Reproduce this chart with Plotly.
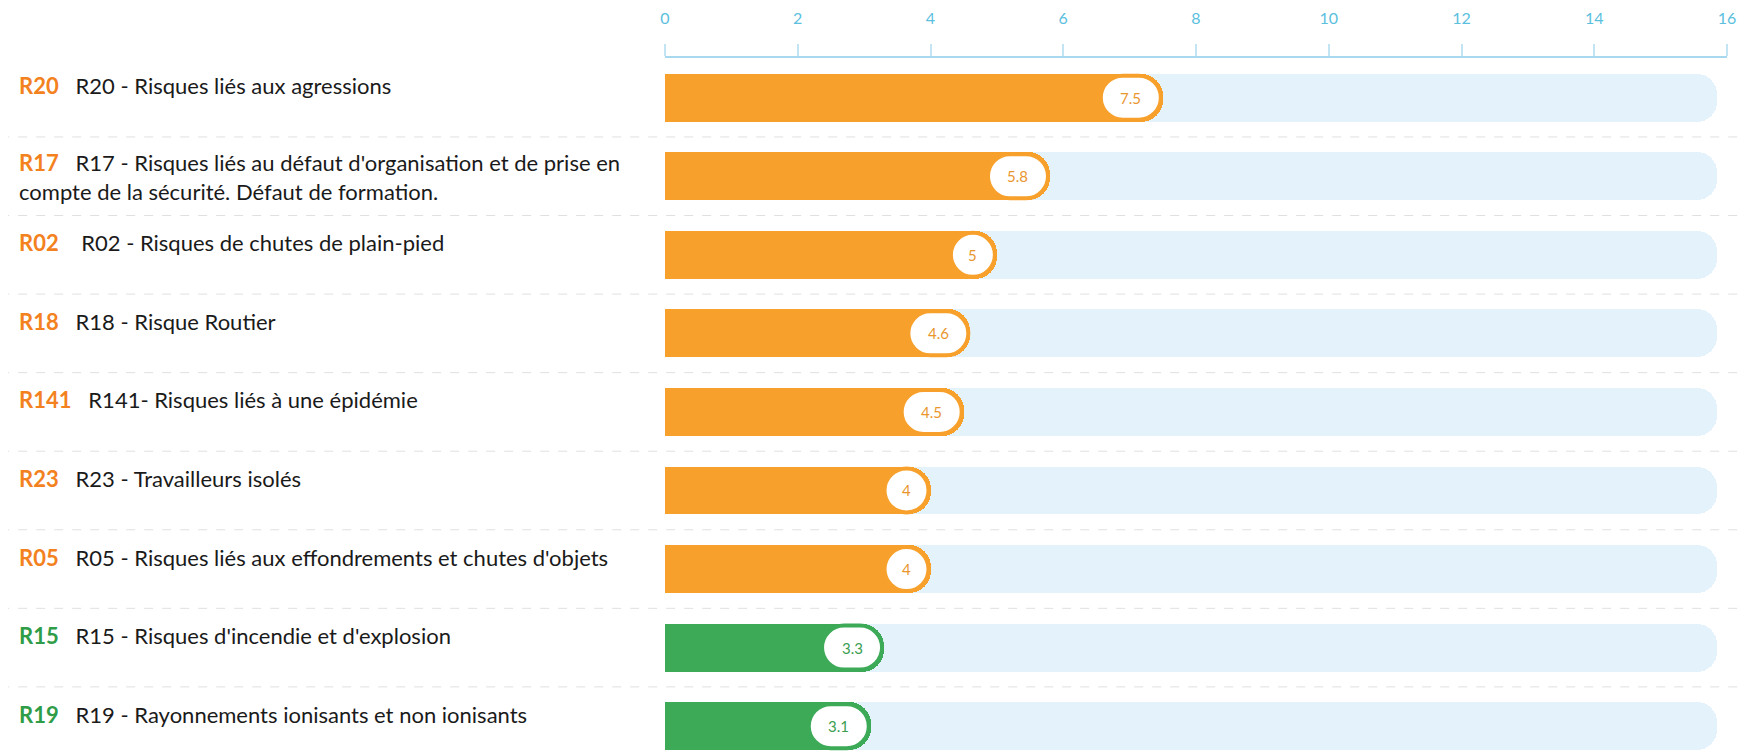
import plotly.graph_objects as go

codes = ["R20", "R17", "R02", "R18", "R141", "R23", "R05", "R15", "R19"]
descriptions = [
    "R20 - Risques liés aux agressions",
    "R17 - Risques liés au défaut d'organisation et de prise en<br>compte de la sécurité. Défaut de formation.",
    " R02 - Risques de chutes de plain-pied",
    "R18 - Risque Routier",
    "R141- Risques liés à une épidémie",
    "R23 - Travailleurs isolés",
    "R05 - Risques liés aux effondrements et chutes d'objets",
    "R15 - Risques d'incendie et d'explosion",
    "R19 - Rayonnements ionisants et non ionisants",
]
values = [7.5, 5.8, 5, 4.6, 4.5, 4, 4, 3.3, 3.1]
value_labels = ["7.5", "5.8", "5", "4.6", "4.5", "4", "4", "3.3", "3.1"]
levels = ["orange"] * 7 + ["green"] * 2
scale_max = 16
track_max = 15.85
tick_vals = [0, 2, 4, 6, 8, 10, 12, 14, 16]

BAR_COL = {"orange": "#F7A12C", "green": "#3DAA58"}
CODE_COL = {"orange": "#F38120", "green": "#2F9C48"}
TXT_COL = {"orange": "#E9962E", "green": "#3A9E50"}

n = len(values)
ypos = list(range(n))
bar_w = 0.61
bar_px = 48
yrange = [8.316, -0.505]

fig = go.Figure()
# background track (drawn first, on the base axis)
fig.add_trace(go.Bar(
    x=[track_max] * n, y=ypos, orientation="h", width=bar_w,
    marker=dict(color="#E4F2FB", line=dict(width=0), cornerradius=20),
    hoverinfo="skip", showlegend=False,
))
# value bars on an overlaying axis so rounding is computed independently
fig.add_trace(go.Bar(
    x=values, y=ypos, orientation="h", width=bar_w, yaxis="y2",
    marker=dict(color=[BAR_COL[l] for l in levels], line=dict(width=0), cornerradius=22),
    showlegend=False,
))

shapes = []
annotations = []
k = 0.5523
for i, (v, lab, lev) in enumerate(zip(values, value_labels, levels)):
    pw = 40 + 8 * len(lab)
    bw = 4
    R = -bw / 2
    L = -pw + bw / 2
    r = bar_px / 2 - bw / 2
    path = (
        f"M {L + r},{-r} L {R - r},{-r} "
        f"C {R - r + k * r},{-r} {R},{-k * r} {R},0 "
        f"C {R},{k * r} {R - r + k * r},{r} {R - r},{r} "
        f"L {L + r},{r} "
        f"C {L + r - k * r},{r} {L},{k * r} {L},0 "
        f"C {L},{-k * r} {L + r - k * r},{-r} {L + r},{-r} Z"
    )
    shapes.append(dict(
        type="path", xref="x", yref="y", xsizemode="pixel", ysizemode="pixel",
        xanchor=v, yanchor=i, path=path, fillcolor="white",
        line=dict(width=bw, color=BAR_COL[lev]), layer="above",
    ))
    annotations.append(dict(
        x=v, y=i, xref="x", yref="y", xshift=-pw / 2, showarrow=False,
        text=lab, font=dict(family="Lato", size=15, color=TXT_COL[lev]),
        xanchor="center", yanchor="middle",
    ))
    multi = "<br>" in descriptions[i]
    annotations.append(dict(
        x=-0.610, y=i, xref="paper", yref="y", yshift=-1 if multi else 12,
        xanchor="left", yanchor="middle", align="left", showarrow=False,
        text=(f"<span style='color:{CODE_COL[lev]}'><b>{codes[i]}</b></span>"
              f"&nbsp;&nbsp;&nbsp;{descriptions[i]}"),
        font=dict(family="Lato", size=22, color="#1a1a1a"),
    ))

for i in range(n - 1):
    shapes.append(dict(
        type="line", xref="paper", yref="y", x0=-0.626, x1=1.02, y0=i + 0.5, y1=i + 0.5,
        line=dict(color="#E0E0E0", width=1, dash="dash"), layer="below",
    ))

# page body adds an 8px margin; compensate so the plot lands where intended
fig.update_layout(
    width=1743, height=743,
    margin=dict(l=657, r=24, t=44, b=0),
    paper_bgcolor="white", plot_bgcolor="white",
    barmode="overlay", bargap=0,
    shapes=shapes, annotations=annotations,
    xaxis=dict(
        side="top", range=[0, scale_max], tickvals=tick_vals,
        showgrid=False, zeroline=False, showline=True, linecolor="#A8D8EE", linewidth=1.5,
        ticks="outside", ticklen=12, tickcolor="#C3E5F3", tickwidth=1.5,
        tickfont=dict(family="Lato", size=16, color="#5BC0DE"),
        ticklabelstandoff=14,
    ),
    yaxis=dict(
        range=yrange, showticklabels=False, showgrid=False,
        zeroline=False, showline=False,
    ),
    yaxis2=dict(
        range=yrange, overlaying="y", showticklabels=False, showgrid=False,
        zeroline=False, showline=False,
    ),
)

fig.write_html("out.html")
